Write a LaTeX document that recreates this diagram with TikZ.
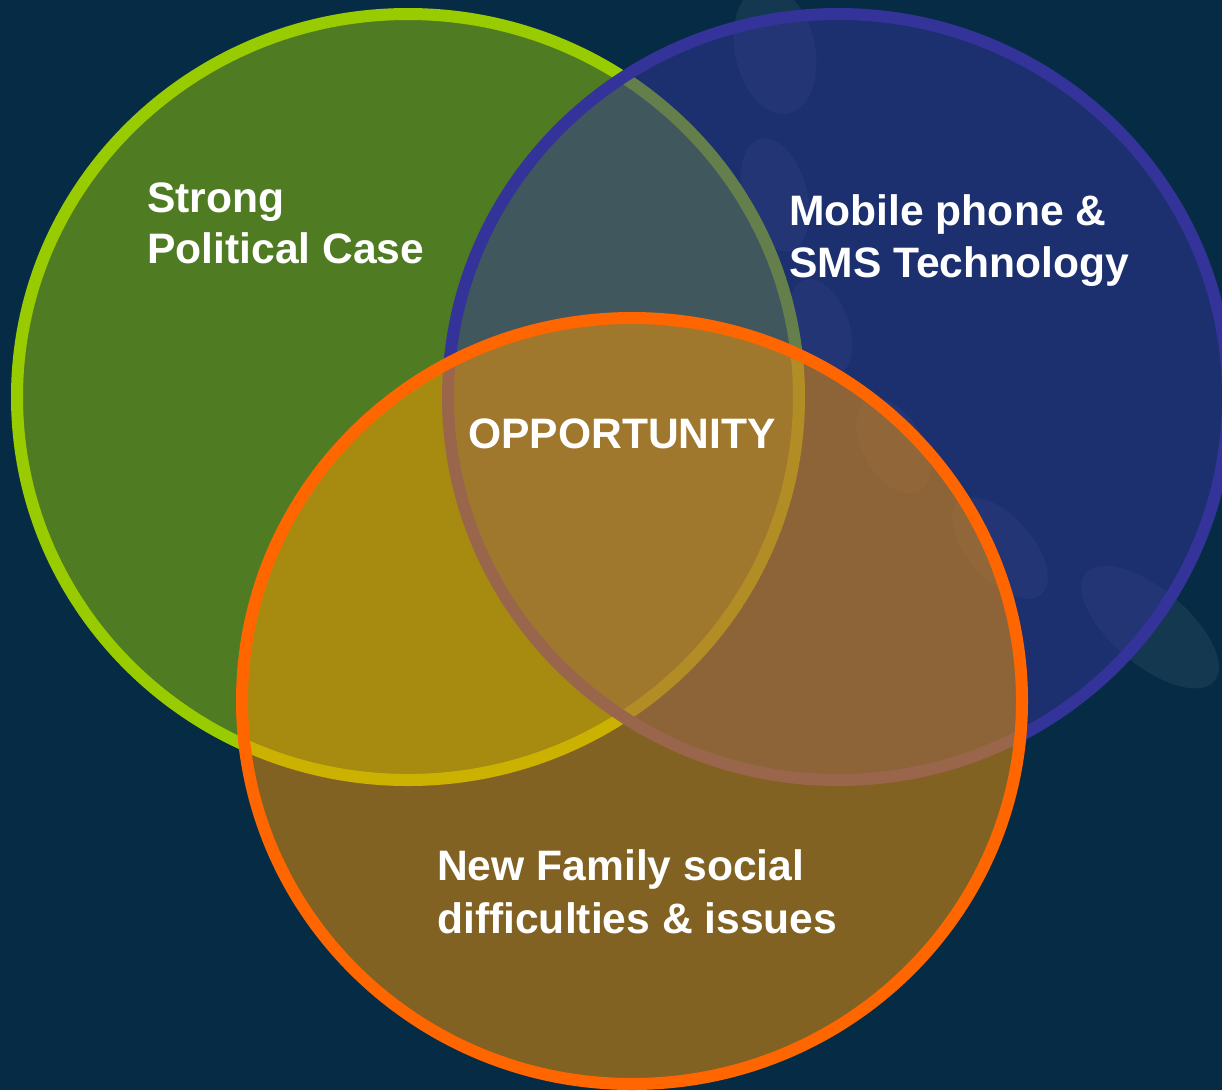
\documentclass[tikz,border=0pt]{standalone}
\usepackage{fontspec}
\setmainfont{Liberation Sans}
\definecolor{bgnavy}{RGB}{6,44,69}
\definecolor{limegreen}{HTML}{99CC00}
\definecolor{indigo}{HTML}{333399}
\definecolor{amber}{HTML}{FF9900}
\definecolor{blaze}{HTML}{FF6600}
\begin{document}
\begin{tikzpicture}[x=1pt, y=-1pt,
  ring/.style={line width=12pt, fill opacity=0.5, draw opacity=1},
  glow/.style={white, fill opacity=0.06},
  label/.style={anchor=base west, inner sep=0pt, text=white,
    font=\fontsize{42.6}{51}\selectfont\bfseries}]
  % page and backdrop
  \fill[bgnavy] (0,0) rectangle (1222,1090);
  \useasboundingbox (0,0) rectangle (1222,1090);

  % faint decorative ovals behind the sets
  \fill[glow, rotate around={12:(775,50)}]   (775,50)   ellipse [x radius=40, y radius=65];
  \fill[glow, rotate around={15:(775,195)}]  (775,195)  ellipse [x radius=32, y radius=58];
  \fill[glow, rotate around={20:(821,327)}]  (821,327)  ellipse [x radius=28, y radius=50];
  \fill[glow, rotate around={30:(893,446)}]  (893,446)  ellipse [x radius=30, y radius=52];
  \fill[glow, rotate around={42:(1000,548)}] (1000,548) ellipse [x radius=32, y radius=62];
  \fill[glow, rotate around={50:(1150,627)}] (1150,627) ellipse [x radius=38, y radius=84];

  % the three sets
  \path[ring, draw=limegreen, fill=limegreen] (408,397) ellipse [x radius=391, y radius=383];
  \path[ring, draw=indigo, fill=indigo]       (838,397) ellipse [x radius=390, y radius=383];
  \path[ring, draw=blaze, fill=amber]         (632,701) ellipse [x radius=390, y radius=383];

  % set labels
  \node[label] (pol1) at (147,212) {Strong};
  \node[label] (pol2) at (147,263) {Political Case};
  \node[label] (mob1) at (789,225) {Mobile phone \&};
  \node[label] (mob2) at (789,277) {SMS Technology};
  \node[label] (fam1) at (437,880) {New Family social};
  \node[label] (fam2) at (437,933) {difficulties \& issues};
  \node[label] (opp)  at (468,448) {OPPORTUNITY};
\end{tikzpicture}
\end{document}
